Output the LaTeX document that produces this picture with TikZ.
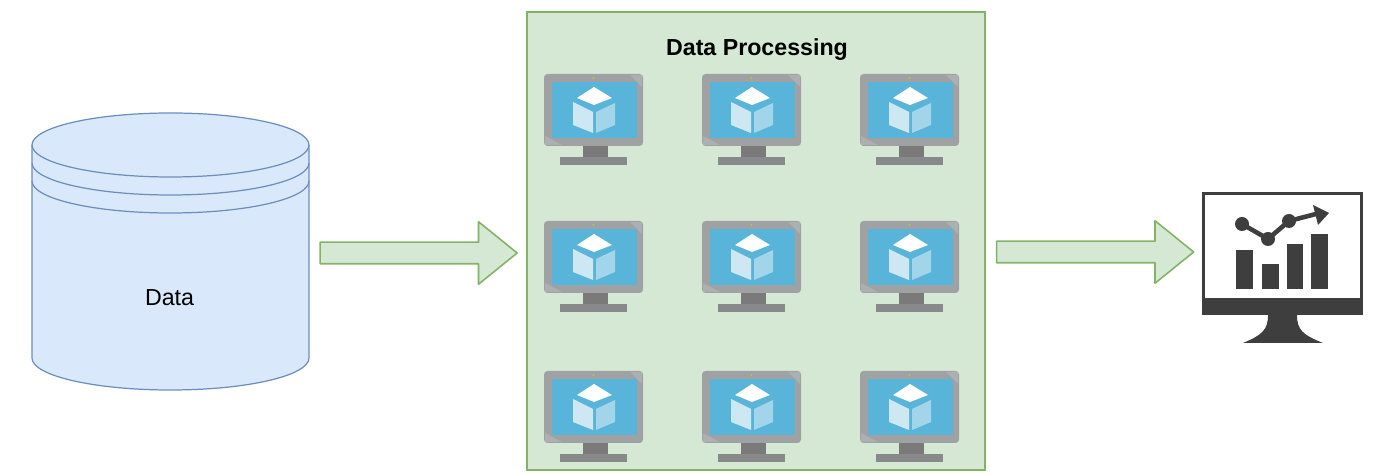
\documentclass[tikz,border=0pt]{standalone}
\usepackage{fontspec}
\setmainfont{Liberation Sans}
\usetikzlibrary{shapes.arrows, positioning}

\definecolor{greenfill}{HTML}{D5E8D4}
\definecolor{greenline}{HTML}{82B366}
\definecolor{bluefill}{HTML}{DAE8FC}
\definecolor{blueline}{HTML}{6C8EBF}
\definecolor{screenblue}{HTML}{59B4D9}
\definecolor{framegray}{HTML}{A0A1A2}
\definecolor{neckgray}{HTML}{7A7A7A}
\definecolor{chartdark}{HTML}{3E3E3E}

\tikzset{
   block arrow/.style={
      draw=greenline,
      fill=greenfill,
      line width=0.9pt,
      line join=round,
      shape=single arrow,
      minimum height=3.94cm,
      single arrow head extend=0.41cm,
      single arrow tip angle=78,
      inner xsep=0pt,
      inner ysep=0.2cm
   },
   store line/.style={draw=blueline, line width=0.7pt},
   label text/.style={font=\fontsize{13.2}{16}\selectfont},
   vm/.pic={
      \fill[framegray, rounded corners=2pt] (0,0) rectangle (99,72);
      \fill[framegray!85!white] (86,1) -- (98,1) -- (98,13) -- cycle;
      \fill[framegray!85!white] (1,71) -- (1,62) -- (18,71) -- cycle;
      \fill[screenblue] (8,8) rectangle (93,64);
      \fill[greenline!70!yellow] (49.5,4) circle[radius=1.2];
      \fill[white] (50,13) -- (68,24) -- (50,31) -- (33,24) -- cycle;
      \fill[white, opacity=0.7] (29,28) -- (49,38) -- (49,59) -- (29,51) -- cycle;
      \fill[white, opacity=0.45] (52,38) -- (71,29) -- (71,51) -- (52,59) -- cycle;
      \fill[neckgray] (39,72) -- (64,72) -- (64,83) -- (39,83) -- cycle;
      \fill[framegray!85!black] (16,83) rectangle (83,91);
   }
}

\begin{document}
\begin{tikzpicture}[x=0.02cm, y=-0.02cm]
   \useasboundingbox (0,0) rectangle (1400,475);

   % data store
   \path[fill=bluefill] (32,145) -- (32,358) arc[start angle=180, end angle=0, x radius=138.5, y radius=32]
      -- (309,145) arc[start angle=0, end angle=-180, x radius=138.5, y radius=32] -- cycle;
   \draw[store line] (32,145) -- (32,358) arc[start angle=180, end angle=0, x radius=138.5, y radius=32] -- (309,145);
   \draw[store line] (170.5,145) ellipse[x radius=138.5, y radius=32];
   \draw[store line] (32,163) arc[start angle=180, end angle=0, x radius=138.5, y radius=32];
   \draw[store line] (32,181) arc[start angle=180, end angle=0, x radius=138.5, y radius=32];
   \node[label text] (data) at (169.5,298) {Data};

   % processing box
   \draw[greenline, fill=greenfill, line width=0.7pt] (527,12) rectangle (985,470);
   \node[label text, font=\fontsize{13.2}{16}\selectfont\bfseries] (processing) at (757,50) {Data Processing};

   \pic (vmA) at (544,74) {vm};
   \pic (vmB) at (702,74) {vm};
   \pic (vmC) at (860,74) {vm};
   \pic (vmD) at (544,221) {vm};
   \pic (vmE) at (702,221) {vm};
   \pic (vmF) at (860,221) {vm};
   \pic (vmG) at (544,371) {vm};
   \pic (vmH) at (702,371) {vm};
   \pic (vmI) at (860,371) {vm};

   % arrows
   \node[block arrow] (arrowin) at (412,253) {};
   \node[block arrow] (arrowout) at (1088.5,252) {};

   % chart monitor
   \draw[chartdark, line width=2pt] (1203.5,193.5) rectangle (1361.5,300);
   \fill[chartdark] (1202,299) rectangle (1363,315);
   \fill[chartdark] (1268,315) -- (1297,315) .. controls (1297,330) and (1303,335) .. (1323,343)
      -- (1243,343) .. controls (1262,335) and (1268,330) .. (1268,315) -- cycle;
   \fill[chartdark] (1236,250) rectangle (1253,289);
   \fill[chartdark] (1262,264) rectangle (1279,289);
   \fill[chartdark] (1287,244) rectangle (1303,289);
   \fill[chartdark] (1311,234) rectangle (1328,289);
   \draw[chartdark, line width=2.6pt] (1242,224) -- (1268,239) -- (1289,221) -- (1316,214);
   \fill[chartdark] (1242,224) circle[radius=7];
   \fill[chartdark] (1268,239) circle[radius=7];
   \fill[chartdark] (1289,221) circle[radius=7];
   \fill[chartdark] (1329,213) -- (1313,205) -- (1318,225) -- cycle;
\end{tikzpicture}
\end{document}
